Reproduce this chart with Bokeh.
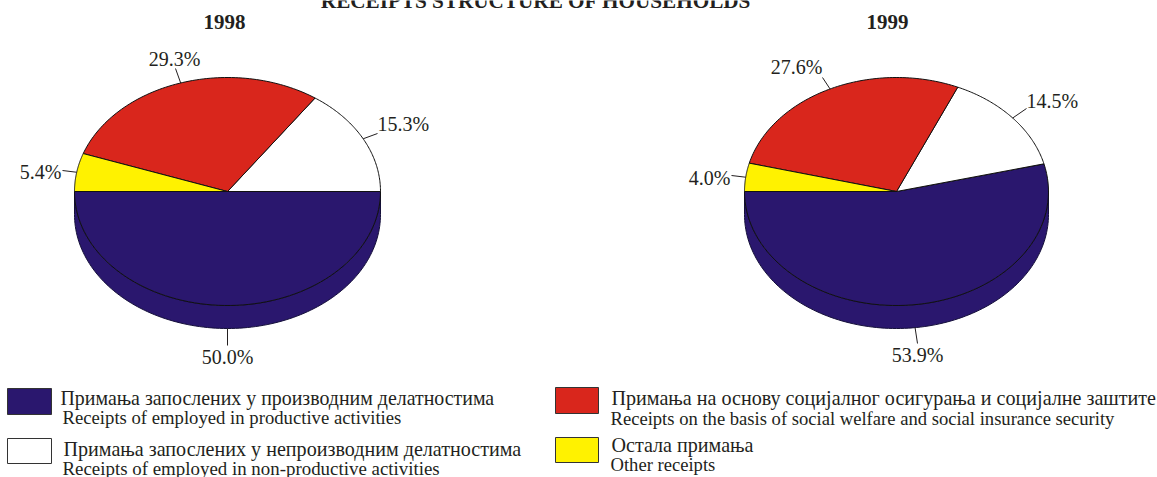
import numpy as np
from bokeh.plotting import figure
from bokeh.models import Range1d
from bokeh.core.properties import value
from bokeh.embed import file_html
from bokeh.resources import INLINE

YEARS = ["1998", "1999"]
VALUES_1998 = [50.0, 15.3, 29.3, 5.4]
VALUES_1999 = [53.9, 14.5, 27.6, 4.0]
COLORS = ["#2a176e", "#ffffff", "#d9261c", "#fff200"]
TITLE = "RECEIPTS STRUCTURE OF HOUSEHOLDS"
LEGEND_SR = ["Примања запослених у производним делатностима",
             "Примања запослених у непроизводним делатностима",
             "Примања на основу социјалног осигурања и социјалне заштите",
             "Остала примања"]
LEGEND_EN = ["Receipts of employed in productive activities",
             "Receipts of employed in non-productive activities",
             "Receipts on the basis of social welfare and social insurance security",
             "Other receipts"]

W, H = 1157, 477
FONT = value("Liberation Serif")
INK = "#231f20"

p = figure(width=W, height=H, x_range=Range1d(0, W), y_range=Range1d(H, 0),
           output_backend="svg", toolbar_location=None, min_border=0,
           outline_line_color=None)
p.axis.visible = False
p.grid.visible = False


def pie(vals, cx, cy, rx, ry, depth, outer):
    # side wall
    t = np.radians(np.linspace(180, 360, 121))
    sx = cx + rx * np.cos(t)
    sy = cy - ry * np.sin(t)
    p.patch(list(sx) + list(sx[::-1]), list(sy + depth) + list(sy[::-1]),
            fill_color=COLORS[0], line_color="#15103a", line_width=1)
    a0 = 180.0
    for i, v in enumerate(vals):
        a1 = a0 + v * 3.6
        t = np.radians(np.linspace(a0, a1, 80))
        xs = [cx] + list(cx + rx * np.cos(t)) + [cx]
        ys = [cy] + list(cy - ry * np.sin(t)) + [cy]
        p.patch(xs, ys, fill_color=COLORS[i], line_color="#111111", line_width=1)
        m = np.radians((a0 + a1) / 2)
        mx, my = cx + rx * np.cos(m), cy - ry * np.sin(m)
        if np.sin(m) < 0:
            my += depth
        ox, oy, tx, ty, align = outer[i]
        p.line([mx, ox], [my, oy], line_color=INK, line_width=1)
        p.text([tx], [ty], text=[f"{v:.1f}%"], text_font=FONT, text_font_size="20px",
               text_color=INK, text_align=align, text_baseline="middle")
        a0 = a1


pie(VALUES_1998, 227, 191, 153, 114, 23,
    [(227, 345, 227, 356, "center"), (377, 133, 377, 123, "left"),
     (175, 68, 174, 58, "center"), (62, 170, 61, 171, "right")])
pie(VALUES_1999, 896, 191, 152, 114, 23,
    [(917, 343, 917, 354, "center"), (1026, 108, 1026, 100, "left"),
     (822, 77, 796, 66, "center"), (731, 175, 730, 177, "right")])

p.text([535.5], [0], text=[TITLE], text_font=FONT, text_font_size="21.2px", text_font_style="bold",
       text_color=INK, text_align="center", text_baseline="middle")
for yr, x in zip(YEARS, [224, 887]):
    p.text([x], [21], text=[yr], text_font=FONT, text_font_size="21px", text_font_style="bold",
           text_color=INK, text_align="center", text_baseline="middle")

# legend
SW = [(7, 388, 44, 26), (7, 438, 44, 25), (555, 387, 43, 26), (555, 437, 43, 25)]
LX = [(60, 62), (63, 62), (611, 610), (611, 610)]
LY = [(397, 417), (448, 468), (397, 418), (444, 464)]
LS = [("19.9px", "18.7px"), ("20.1px", "18.9px"), ("20.1px", "18.6px"), ("20.1px", "18.6px")]
for i in range(4):
    x, y, w, h = SW[i]
    p.quad(left=[x], right=[x + w], top=[y], bottom=[y + h], fill_color=COLORS[i],
           line_color="#333333", line_width=1)
    p.text([LX[i][0]], [LY[i][0]], text=[LEGEND_SR[i]], text_font=FONT, text_font_size=LS[i][0],
           text_color=INK, text_baseline="middle")
    p.text([LX[i][1]], [LY[i][1]], text=[LEGEND_EN[i]], text_font=FONT, text_font_size=LS[i][1],
           text_color=INK, text_baseline="middle")

open("out.html", "w").write(file_html(p, INLINE))
